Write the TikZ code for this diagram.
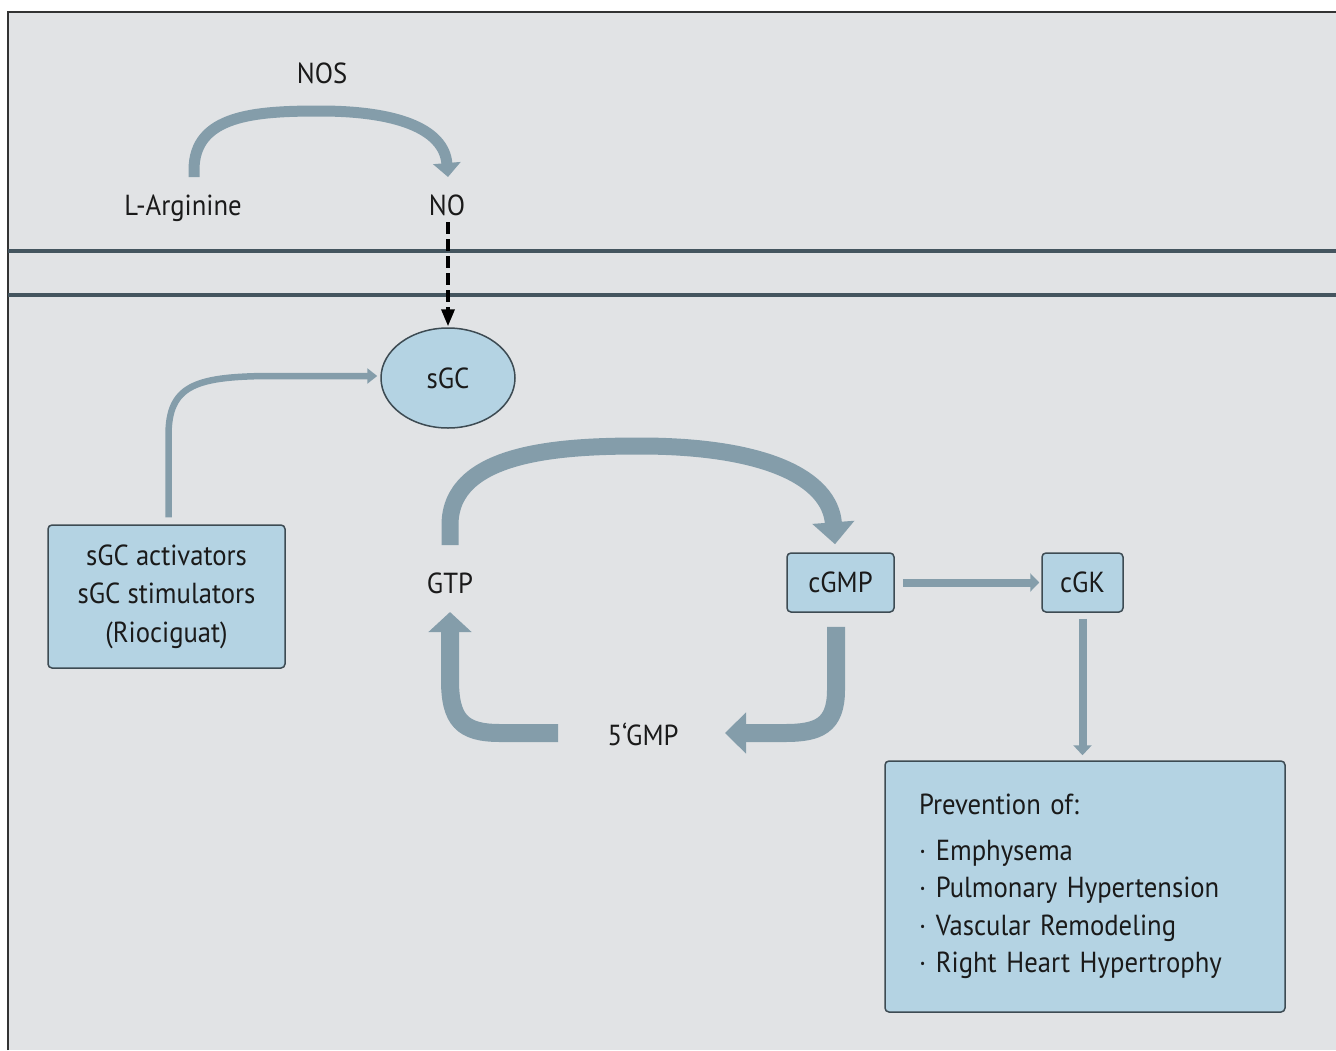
\documentclass[tikz,border=0pt]{standalone}
\usepackage{fontspec}
\setmainfont{PT Sans}[FakeStretch=0.92]
\usetikzlibrary{arrows.meta,shapes.geometric,calc}
\definecolor{bg}{HTML}{E1E3E5}
\definecolor{nodefill}{HTML}{B4D3E3}
\definecolor{arrowc}{HTML}{849DAA}
\definecolor{membrane}{HTML}{44555F}
\definecolor{edge}{HTML}{3D4B53}
\definecolor{txt}{HTML}{1A1A1A}
\begin{document}
\begin{tikzpicture}[x=1pt,y=-1pt,
  font=\fontsize{29}{37}\selectfont,
  lbl/.style={inner sep=0pt, anchor=base, text=txt},
  box/.style={draw=edge, fill=nodefill, line width=1.5pt, rounded corners=4pt, inner sep=0pt, text=txt},
  flow/.style={draw=arrowc, line cap=butt},
  frameline/.style={draw=black!80, line width=1.5pt},
  memb/.style={draw=membrane, line width=3.5pt}]
\useasboundingbox (0,0) rectangle (1336,1050);
\fill[white] (0,0) rectangle (1336,1050);
\fill[bg] (8,12) rectangle (1336,1050);
\draw[frameline] (8,1050) -- (8,12) -- (1336,12);
\draw[memb] (8,251) -- (1336,251);
\draw[memb] (8,295) -- (1336,295);

% text labels
\node[lbl] (nos) at (322,83) {NOS};
\node[lbl] (arg) at (183,215) {L-Arginine};
\node[lbl] (no) at (447,215) {NO};
\node[lbl] (gtp) at (450,593) {GTP};
\node[lbl] (gmp5) at (643,745) {5‘GMP};

% shaped nodes
\node[ellipse, draw=edge, fill=nodefill, line width=1.5pt, inner sep=0pt, text=txt,
      minimum width=134pt, minimum height=100pt] (sgc) at (448,378) {sGC};
\node[box, minimum width=237pt, minimum height=143pt, align=center,
      font=\fontsize{29}{38.5}\selectfont] (act) at (166.5,596.5)
  {sGC activators\\sGC stimulators\\(Riociguat)};
\node[box, minimum width=107pt, minimum height=59pt] (cgmp) at (840.5,582.5) {cGMP};
\node[box, minimum width=81pt, minimum height=59pt] (cgk) at (1082.5,582.5) {cGK};
\node[box, text width=332pt, inner xsep=34pt, minimum height=251pt, align=left,
      font=\fontsize{29}{37.5}\selectfont] (prev) at (1085,886.5)
  {Prevention of:\\[8pt]·\ Emphysema\\·\ Pulmonary Hypertension\\·\ Vascular Remodeling\\·\ Right Heart Hypertrophy};

% NOS arc
\draw[flow, line width=11pt, -{Triangle[length=14pt,width=27pt]}]
  ($(arg.base)+(11,-38)$) -- (194,170) .. controls (194,115) and (255,111) .. (320,111)
  .. controls (395,111) and (444,128) .. ($(no.base)+(1,-38)$);

% NO -> sGC dashed
\draw[draw=black, line width=3.5pt, dash pattern=on 12pt off 5pt,
      -{Triangle[length=17pt,width=13pt]}, shorten >=1pt]
  ($(no.base)+(1,7)$) -- (sgc.north);

% activators -> sGC
\draw[flow, line width=6.5pt, -{Triangle[length=10pt,width=15pt]}]
  ($(act.north)+(2,-7)$) -- (168.5,435) .. controls (168.5,386) and (195,377) .. (265,376)
  -- ($(sgc.west)+(-3,-2)$);

% GTP -> cGMP
\draw[flow, line width=17pt, -{Triangle[length=22pt,width=41pt]}]
  ($(gtp.base)+(0,-48)$) -- (450,525) .. controls (450,452) and (560,446) .. (640,446)
  .. controls (765,446) and (830,478) .. ($(cgmp.north)+(-5.5,-8)$);

% cGMP -> 5'GMP
\draw[flow, line width=18pt, -{Triangle[length=21pt,width=40pt]}]
  ($(cgmp.south)+(-4.5,14)$) -- (836,690) .. controls (836,726) and (818,733) .. (785,733)
  -- ($(gmp5.base)+(82,-12)$);

% 5'GMP -> GTP
\draw[flow, line width=18pt, -{Triangle[length=20pt,width=42pt]}]
  ($(gmp5.base)+(-85,-12)$) -- (500,733) .. controls (462,733) and (450,720) .. (450,680)
  -- ($(gtp.base)+(0,19)$);

% cGMP -> cGK
\draw[flow, line width=8pt, -{Triangle[length=9pt,width=18pt]}, shorten <=8pt, shorten >=2pt]
  (cgmp.east) -- (cgk.west);

% cGK -> prevention
\draw[flow, line width=8pt, -{Triangle[length=10pt,width=18pt]}, shorten <=6pt, shorten >=5pt]
  (cgk.south) -- (cgk.south |- prev.north);
\end{tikzpicture}
\end{document}
